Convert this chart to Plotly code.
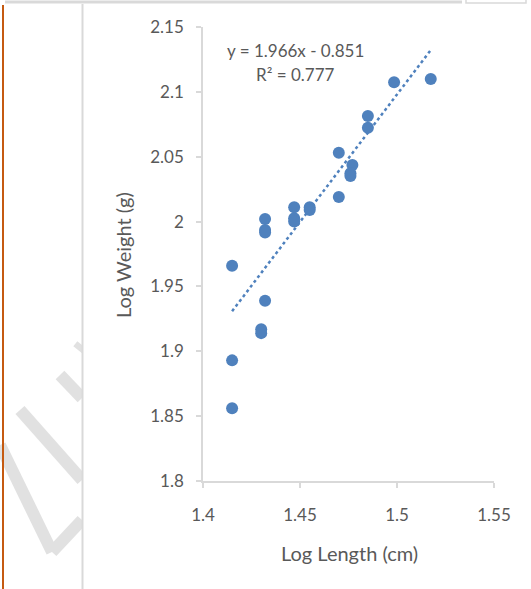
import plotly.graph_objects as go

# ---- data ----
log_length = [1.415, 1.415, 1.415,
              1.432, 1.432, 1.432, 1.432,
              1.430, 1.430,
              1.447, 1.447, 1.447,
              1.455, 1.455,
              1.470, 1.470,
              1.477, 1.476, 1.476,
              1.485, 1.485,
              1.4985, 1.5174]
log_weight = [1.966, 1.893, 1.856,
              2.002, 1.9935, 1.9915, 1.939,
              1.917, 1.914,
              2.011, 2.0025, 2.000,
              2.011, 2.009,
              2.019, 2.053,
              2.0436, 2.0372, 2.0352,
              2.0814, 2.0724,
              2.1074, 2.110]
slope = 1.966
intercept = -0.851
r_squared = 0.777
x_ticks = [1.4, 1.45, 1.5, 1.55]
y_ticks = [1.8, 1.85, 1.9, 1.95, 2.0, 2.05, 2.1, 2.15]

W, H = 531, 589
L, R, T, B = 203, 494, 27, 481  # plot area in page pixels


def px(x):
    return (x - L) / (R - L)


def py(y):
    return (B - y) / (B - T)


txt = "#595959"
blue = "#4F81BD"
font_family = "Lato, 'Open Sans', sans-serif"

x_min, x_max = min(log_length), max(log_length)
trend_x = [x_min, x_max]
trend_y = [slope * v + intercept for v in trend_x]

fig = go.Figure()
fig.add_trace(go.Scatter(
    x=trend_x, y=trend_y, mode="lines",
    line=dict(color=blue, width=2.5, dash="dot"),
    hoverinfo="skip", showlegend=False))
fig.add_trace(go.Scatter(
    x=log_length, y=log_weight, mode="markers",
    marker=dict(color=blue, size=12, line=dict(width=0)),
    showlegend=False))

axis_common = dict(
    showgrid=False, zeroline=False, showline=True,
    linecolor="#d9d9d9", linewidth=1.5,
    ticks="outside", ticklen=5, tickcolor="#d9d9d9", tickwidth=1.5,
    tickfont=dict(family=font_family, size=17, color=txt),
)

fig.update_layout(
    width=W, height=H,
    margin=dict(l=L, r=W - R, t=T, b=H - B, pad=0),
    paper_bgcolor="white", plot_bgcolor="white",
    xaxis=dict(range=[1.4, 1.55], tickvals=x_ticks,
               ticktext=[f"{v:g}" for v in x_ticks],
               ticklabelstandoff=13, **axis_common),
    yaxis=dict(range=[1.8, 2.15], tickvals=y_ticks,
               ticktext=[f"{v:g}" for v in y_ticks],
               ticklabelstandoff=9, **axis_common),
    font=dict(family=font_family, color=txt),
)


def label(x, y, text, size, angle=0):
    fig.add_annotation(xref="paper", yref="paper", x=px(x), y=py(y),
                       xanchor="center", yanchor="middle",
                       text=text, textangle=angle, showarrow=False,
                       font=dict(size=size, color=txt, family=font_family))


label(295, 51, f"y = {slope:.3f}x - {abs(intercept):.3f}", 17)
label(295, 74, f"R² = {r_squared:.3f}", 17)
label(349, 553, "Log Length (cm)", 20)
label(123, 255, "Log Weight (g)", 20, -90)

shapes = []
# watermark strokes (light gray), left of the chart frame
wm = "#e1e1e1"
for (x0, y0, x1, y1) in [(60, 375, 82, 398), (20, 410, 82, 480),
                         (0, 445, 52, 552), (52, 552, 82, 520),
                         (78, 350, 82, 345)]:
    shapes.append(dict(type="line", xref="paper", yref="paper",
                       x0=px(x0), y0=py(y0), x1=px(x1), y1=py(y1),
                       line=dict(color=wm, width=12), layer="below"))
# white cover right of frame line (chart area)
shapes.append(dict(type="rect", xref="paper", yref="paper",
                   x0=px(83), y0=py(600), x1=px(540), y1=py(4),
                   fillcolor="white", line=dict(width=0), layer="below"))
# frame lines
shapes.append(dict(type="line", xref="paper", yref="paper",
                   x0=px(5), y0=py(2), x1=px(462), y1=py(2),
                   line=dict(color="#d9d9d9", width=3)))
shapes.append(dict(type="rect", xref="paper", yref="paper",
                   x0=px(466), y0=py(3), x1=px(526), y1=py(-3),
                   line=dict(color="#d9d9d9", width=1.5),
                   fillcolor="white"))
shapes.append(dict(type="line", xref="paper", yref="paper",
                   x0=px(82.5), y0=py(4), x1=px(82.5), y1=py(600),
                   line=dict(color="#d9d9d9", width=2)))
shapes.append(dict(type="line", xref="paper", yref="paper",
                   x0=px(3), y0=py(5), x1=px(3), y1=py(600),
                   line=dict(color="#c55a11", width=2)))
fig.update_layout(shapes=shapes)

fig.write_html(
    "out.html",
    config={"displayModeBar": False},
    post_script="document.body.style.margin='0';"
                "document.body.style.overflow='hidden';")
